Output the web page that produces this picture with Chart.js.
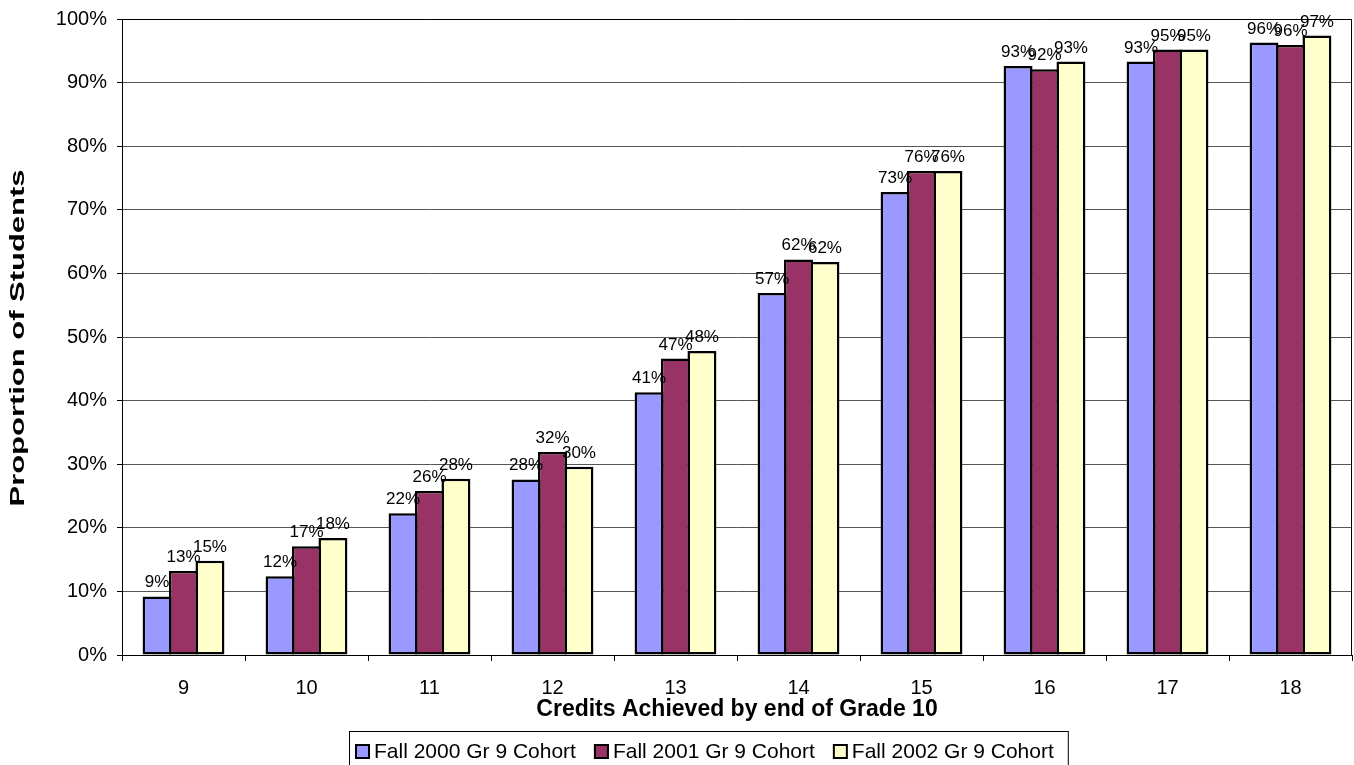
<!DOCTYPE html>
<html>
<head>
<meta charset="utf-8">
<script src="https://cdn.jsdelivr.net/npm/chart.js@4/dist/chart.umd.min.js"></script>
<style>
  html, body { margin: 0; padding: 0; background: #fff; }
  #wrap { width: 1354px; height: 765px; position: relative; }
</style>
</head>
<body>
<div id="wrap"><canvas id="c" width="1354" height="765"></canvas></div>
<script>
// Credits achieved by end of Grade 10, share of each Grade 9 cohort
const credits = ['9', '10', '11', '12', '13', '14', '15', '16', '17', '18'];
const cohort2000 = [9.2, 12.4, 22.3, 27.6, 41.3, 56.9, 72.8, 92.6, 93.3, 96.3];
const cohort2001 = [13.2, 17.1, 25.8, 31.9, 46.6, 62.2, 76.1, 92.1, 95.2, 95.9];
const cohort2002 = [14.8, 18.4, 27.7, 29.6, 47.8, 61.8, 76.1, 93.3, 95.2, 97.4];
const seriesNames = ['Fall 2000 Gr 9 Cohort', 'Fall 2001 Gr 9 Cohort', 'Fall 2002 Gr 9 Cohort'];
const seriesColors = ['#9999FF', '#993366', '#FFFFCC'];
const xTitle = 'Credits Achieved by end of Grade 10';
const yTitle = 'Proportion of Students';

const FONT = '"Liberation Sans", Arial, sans-serif';

function makeDataset(i, values) {
  return {
    label: seriesNames[i],
    data: values,
    backgroundColor: seriesColors[i],
    borderColor: '#000',
    borderWidth: 2.5,
    borderSkipped: false,
    categoryPercentage: 0.645,
    barPercentage: 1.095
  };
}

// value labels, frame, axis titles and legend drawn on the canvas
const decorations = {
  id: 'decorations',
  afterDatasetsDraw(chart) {
    const ctx = chart.ctx;
    ctx.save();
    ctx.font = '17px ' + FONT;
    ctx.fillStyle = '#000';
    ctx.textAlign = 'center';
    ctx.textBaseline = 'alphabetic';
    chart.data.datasets.forEach((ds, di) => {
      const meta = chart.getDatasetMeta(di);
      meta.data.forEach((bar, i) => {
        ctx.fillText(Math.round(ds.data[i]) + '%', bar.x, bar.y - 9);
      });
    });
    ctx.restore();
  },
  afterDraw(chart) {
    const ctx = chart.ctx;
    const a = chart.chartArea;
    ctx.save();
    // plot frame (top and right edges)
    ctx.strokeStyle = '#000';
    ctx.lineWidth = 1;
    ctx.beginPath();
    ctx.moveTo(a.left, Math.round(a.top) + 0.5);
    ctx.lineTo(Math.round(a.right) - 0.5, Math.round(a.top) + 0.5);
    ctx.lineTo(Math.round(a.right) - 0.5, a.bottom);
    ctx.stroke();

    // x axis title
    ctx.fillStyle = '#000';
    ctx.font = 'bold 23px ' + FONT;
    ctx.textAlign = 'center';
    ctx.textBaseline = 'middle';
    ctx.fillText(xTitle, (a.left + a.right) / 2, 710);

    // y axis title (rotated, stretched along its length)
    ctx.save();
    ctx.translate(18, 338);
    ctx.rotate(-Math.PI / 2);
    ctx.font = 'bold 20px ' + FONT;
    const w = ctx.measureText(yTitle).width;
    ctx.scale(337 / w, 1);
    ctx.fillText(yTitle, 0, 0);
    ctx.restore();

    // legend
    ctx.font = '21px ' + FONT;
    ctx.textAlign = 'left';
    ctx.textBaseline = 'middle';
    const sq = 15, gapAfterSq = 4, gapItems = 18;
    let total = 0;
    const widths = seriesNames.map(n => ctx.measureText(n).width);
    widths.forEach((tw, i) => { total += sq + gapAfterSq + tw + (i < widths.length - 1 ? gapItems : 0); });
    const boxLeft = 349, boxTop = 731;
    const boxRight = boxLeft + 6 + total + 14;
    ctx.strokeStyle = '#000';
    ctx.lineWidth = 1;
    ctx.strokeRect(boxLeft + 0.5, boxTop + 0.5, boxRight - boxLeft, 765 - boxTop + 5);
    let x = boxLeft + 6;
    const cy = 751.5;
    seriesNames.forEach((n, i) => {
      ctx.fillStyle = seriesColors[i];
      ctx.fillRect(x, cy - sq / 2, sq, sq);
      ctx.lineWidth = 2;
      ctx.strokeStyle = '#000';
      ctx.strokeRect(x + 1, cy - sq / 2 + 1, sq - 2, sq - 2);
      x += sq + gapAfterSq;
      ctx.fillStyle = '#000';
      ctx.fillText(n, x, cy + 1);
      x += widths[i] + gapItems;
    });
    ctx.restore();
  }
};

new Chart(document.getElementById('c'), {
  type: 'bar',
  data: {
    labels: credits,
    datasets: [
      makeDataset(0, cohort2000),
      makeDataset(1, cohort2001),
      makeDataset(2, cohort2002)
    ]
  },
  options: {
    responsive: false,
    animation: false,
    layout: { padding: { top: 19, right: 2, bottom: 0, left: 0 } },
    plugins: {
      legend: { display: false },
      tooltip: { enabled: false }
    },
    scales: {
      x: {
        grid: { drawOnChartArea: false, drawTicks: true, tickLength: 6, color: '#000', offset: true },
        border: { display: true, color: '#000', width: 1 },
        ticks: { color: '#000', font: { family: FONT, size: 20 }, padding: 15, maxRotation: 0 },
        afterFit(scale) { scale.height = 110; scale.paddingLeft = 0; scale.paddingRight = 0; }
      },
      y: {
        min: 0,
        max: 100,
        ticks: {
          stepSize: 10,
          color: '#000',
          font: { family: FONT, size: 20 },
          padding: 10,
          callback: v => v + '%'
        },
        grid: { color: '#555', lineWidth: 1, tickLength: 5, tickColor: '#000' },
        border: { display: true, color: '#000', width: 1 },
        afterFit(scale) { scale.width = 122; scale.paddingTop = 0; scale.paddingBottom = 0; }
      }
    }
  },
  plugins: [decorations]
});
</script>
</body>
</html>
